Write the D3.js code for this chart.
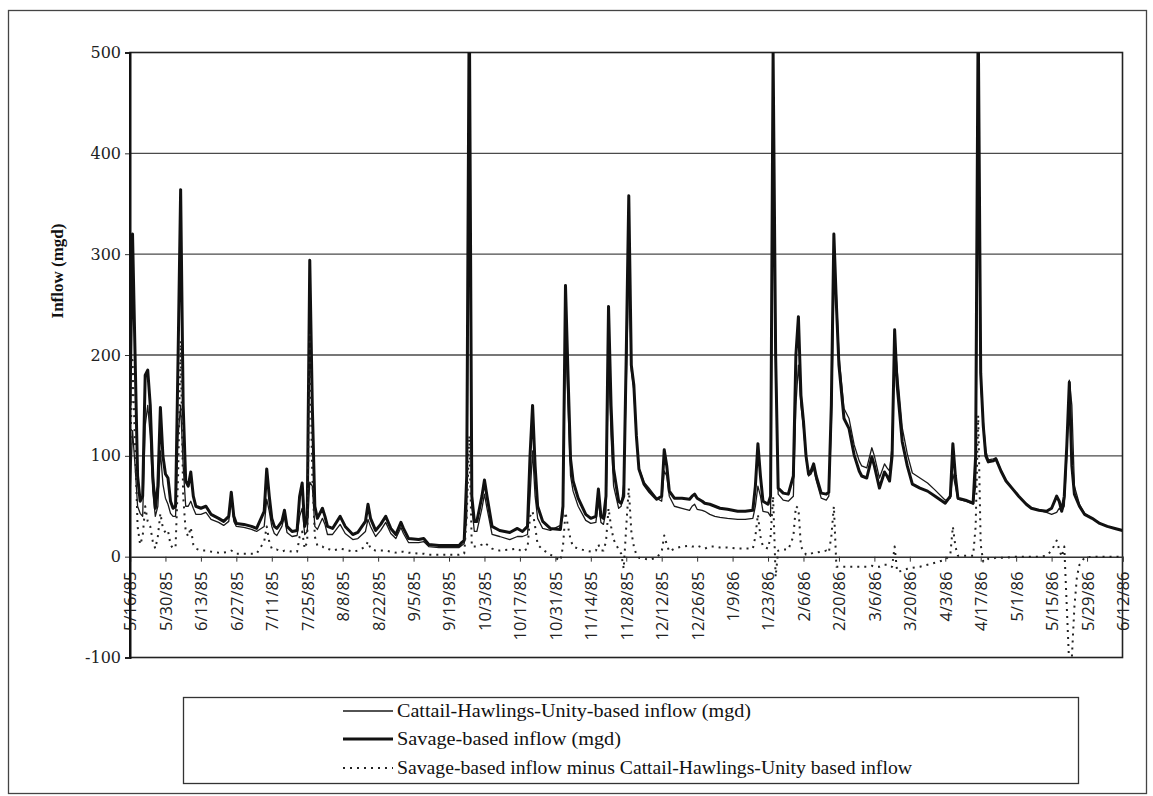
<!DOCTYPE html>
<html>
<head>
<meta charset="utf-8">
<script src="https://cdn.jsdelivr.net/npm/d3@7"></script>
<style>
  body { margin: 0; background: #fff; }
  svg { display: block; }
</style>
</head>
<body>
<svg id="chart" width="1153" height="796"></svg>
<script>
// Daily inflow record, 5/16/85 - 6/12/86. Each series is a list of
// [days after 5/16/85, inflow in mgd].
const startLabel = "5/16/85";
const endLabel = "6/12/86";

const tickLabels = ["5/16/85","5/30/85","6/13/85","6/27/85","7/11/85","7/25/85","8/8/85",
  "8/22/85","9/5/85","9/19/85","10/3/85","10/17/85","10/31/85","11/14/85","11/28/85",
  "12/12/85","12/26/85","1/9/86","1/23/86","2/6/86","2/20/86","3/6/86","3/20/86",
  "4/3/86","4/17/86","5/1/86","5/15/86","5/29/86","6/12/86"];

const yTicks = [-100, 0, 100, 200, 300, 400, 500];

const seriesNames = [
  "Cattail-Hawlings-Unity-based inflow (mgd)",
  "Savage-based inflow (mgd)",
  "Savage-based inflow minus Cattail-Hawlings-Unity based inflow"
];

const savageInflow = [[0,150],[1,320],[2,200],[3,80],[4,55],[5,60],[6,180],[7,185],[8,150],[9,80],
  [10,48],[11,70],[12,148],[13,100],[14,82],[15,78],[16,55],[17,48],[18,50],[19,200],[20,364],
  [21,150],[22,75],[23,70],[24,84],[25,60],[26,50],[28,48],[30,50],[32,42],[35,38],[37,35],
  [39,40],[40,64],[41,40],[42,33],[45,32],[48,30],[50,28],[53,45],[54,87],[55,60],[56,38],
  [57,30],[58,28],[60,35],[61,46],[62,30],[64,25],[66,26],[67,60],[68,73],[69,30],[70,40],
  [71,294],[72,150],[73,50],[74,38],[76,48],[77,40],[78,30],[80,28],[83,40],[85,30],[88,22],
  [90,24],[93,35],[94,52],[95,38],[97,26],[99,32],[101,40],[103,28],[105,22],[107,34],[108,28],
  [110,18],[114,17],[116,18],[118,12],[122,11],[126,11],[130,11],[131,14],[132,16],[133,80],
  [134,560],[135,60],[136,35],[137,35],[139,60],[140,76],[141,60],[143,30],[146,26],[150,24],
  [153,28],[155,25],[157,30],[158,100],[159,150],[160,90],[161,50],[163,35],[166,28],[170,27],
  [171,50],[172,269],[173,180],[174,97],[175,75],[177,58],[180,42],[182,38],[184,40],[185,67],
  [186,40],[187,38],[188,60],[189,248],[190,150],[191,87],[193,55],[194,53],[195,60],[196,200],
  [197,358],[198,190],[199,170],[200,120],[201,87],[203,72],[205,65],[208,57],[210,60],[211,106],
  [212,90],[213,65],[215,58],[218,58],[221,57],[222,60],[223,62],[224,58],[226,55],[227,53],
  [229,52],[231,50],[233,48],[236,47],[240,45],[243,45],[246,46],[247,70],[248,112],[249,80],
  [250,55],[252,52],[253,60],[254,500],[255,200],[256,68],[258,63],[260,62],[262,80],[263,200],
  [264,238],[265,160],[266,134],[267,100],[268,82],[269,85],[270,92],[271,80],[273,63],[275,62],
  [276,64],[277,150],[278,320],[279,250],[280,190],[282,137],[284,127],[286,101],[288,85],
  [289,80],[291,78],[293,99],[294,90],[296,68],[298,84],[299,80],[300,75],[301,100],[302,225],
  [303,170],[305,114],[307,90],[309,72],[312,68],[315,65],[318,60],[322,53],[324,60],[325,112],
  [326,80],[327,58],[330,56],[333,53],[334,100],[335,540],[336,182],[337,130],[338,100],[339,94],
  [341,95],[342,97],[344,85],[346,75],[349,66],[351,60],[354,52],[356,48],[359,46],[362,45],
  [364,48],[366,60],[367,55],[368,45],[369,60],[370,110],[371,173],[372,90],[373,62],[375,50],
  [377,42],[380,38],[383,33],[386,30],[389,28],[392,26]];

const cattailInflow = [[0,60],[1,125],[2,90],[3,50],[4,43],[5,40],[6,130],[7,150],[8,120],[9,65],
  [10,40],[11,50],[12,105],[13,72],[14,58],[15,52],[16,43],[17,40],[18,40],[19,120],[20,150],
  [21,90],[22,50],[23,50],[24,55],[25,48],[26,42],[28,42],[30,44],[32,37],[35,34],[37,31],
  [39,35],[40,58],[41,35],[42,30],[45,29],[48,27],[50,25],[53,30],[54,57],[55,45],[56,30],
  [57,23],[58,21],[60,30],[61,40],[62,24],[64,20],[66,21],[67,40],[68,48],[69,22],[70,25],
  [71,74],[72,70],[73,30],[74,27],[76,38],[77,32],[78,22],[80,22],[83,32],[85,23],[88,17],
  [90,18],[93,25],[94,37],[95,30],[97,20],[99,26],[101,34],[103,23],[105,18],[107,29],[108,23],
  [110,14],[114,14],[116,15],[118,10],[122,9],[126,9],[130,9],[131,11],[132,13],[133,40],
  [134,440],[135,50],[136,25],[137,25],[139,48],[140,62],[141,48],[143,22],[146,20],[150,17],
  [153,20],[155,20],[157,22],[158,60],[159,105],[160,60],[161,38],[163,28],[166,26],[170,31],
  [171,40],[172,225],[173,150],[174,80],[175,65],[177,50],[180,36],[182,33],[184,34],[185,55],
  [186,34],[187,32],[188,45],[189,200],[190,120],[191,70],[193,48],[194,50],[195,72],[196,170],
  [197,290],[198,185],[199,165],[200,118],[201,88],[203,74],[205,68],[208,58],[210,55],[211,85],
  [212,80],[213,60],[215,50],[218,48],[221,46],[222,50],[223,52],[224,47],[226,46],[227,45],
  [229,42],[231,40],[233,39],[236,38],[240,37],[243,37],[246,38],[247,50],[248,70],[249,60],
  [250,45],[252,44],[253,40],[254,440],[255,220],[256,62],[258,56],[260,55],[262,60],[263,150],
  [264,190],[265,150],[266,128],[267,98],[268,80],[269,82],[270,88],[271,76],[273,58],[275,56],
  [276,60],[277,130],[278,270],[279,260],[280,200],[282,147],[284,137],[286,111],[288,95],
  [289,90],[291,88],[293,108],[294,100],[296,78],[298,92],[299,88],[300,85],[301,110],[302,215],
  [303,185],[305,128],[307,102],[309,83],[312,78],[315,73],[318,66],[322,56],[324,58],[325,82],
  [326,70],[327,57],[330,55],[333,52],[334,70],[335,400],[336,170],[337,135],[338,105],[339,96],
  [341,97],[342,98],[344,86],[346,76],[349,66],[351,60],[354,52],[356,48],[359,46],[362,44],
  [364,42],[366,44],[367,48],[368,45],[369,50],[370,100],[371,175],[372,150],[373,70],[375,52],
  [377,43],[380,38],[383,33],[386,30],[389,28],[392,26]];

const savageMinusCattail = [[0,90],[1,195],[2,110],[3,30],[4,12],[5,20],[6,50],[7,35],[8,30],
  [9,15],[10,8],[11,20],[12,43],[13,28],[14,24],[15,26],[16,12],[17,8],[18,10],[19,80],[20,214],
  [21,60],[22,25],[23,20],[24,29],[25,12],[26,8],[28,6],[30,6],[32,5],[35,4],[37,4],[39,5],
  [40,6],[41,5],[42,3],[45,3],[48,3],[50,3],[53,15],[54,30],[55,15],[56,8],[57,7],[58,7],[60,5],
  [61,6],[62,6],[64,5],[66,5],[67,20],[68,25],[69,8],[70,15],[71,220],[72,80],[73,20],[74,11],
  [76,10],[77,8],[78,8],[80,6],[83,8],[85,7],[88,5],[90,6],[93,10],[94,15],[95,8],[97,6],[99,6],
  [101,6],[103,5],[105,4],[107,5],[108,5],[110,4],[114,3],[116,3],[118,2],[122,2],[126,2],
  [130,2],[132,3],[133,40],[134,120],[135,10],[136,10],[137,10],[139,12],[140,14],[141,12],
  [143,8],[146,6],[150,7],[153,8],[155,5],[157,8],[158,40],[159,45],[160,30],[161,12],[163,7],
  [166,2],[170,-4],[171,10],[172,44],[173,30],[174,17],[175,10],[177,8],[180,6],[182,5],[184,6],
  [185,12],[186,6],[187,6],[188,15],[189,48],[190,30],[191,17],[193,7],[194,3],[195,-12],
  [196,30],[197,68],[198,25],[199,10],[200,2],[201,-1],[203,-2],[205,-3],[208,-1],[210,5],
  [211,21],[212,12],[213,5],[215,8],[218,10],[221,11],[222,10],[223,10],[224,11],[226,9],[227,8],
  [229,10],[231,10],[233,9],[236,9],[240,8],[243,8],[246,8],[247,20],[248,42],[249,20],[250,10],
  [252,8],[253,20],[254,60],[255,-20],[256,6],[258,7],[260,7],[262,20],[263,50],[264,48],
  [265,10],[266,6],[267,2],[268,2],[269,3],[270,4],[271,4],[273,5],[275,6],[276,4],[277,20],
  [278,50],[279,-10],[280,-10],[282,-10],[284,-10],[286,-10],[288,-10],[289,-10],[291,-10],
  [293,-9],[294,-10],[296,-10],[298,-8],[299,-8],[300,-10],[301,-10],[302,10],[303,-15],
  [305,-14],[307,-12],[309,-11],[312,-10],[315,-8],[318,-6],[322,-3],[324,2],[325,30],[326,10],
  [327,1],[330,1],[333,1],[334,30],[335,140],[336,12],[337,-5],[338,-5],[339,-2],[341,-2],
  [342,-1],[344,-1],[346,-1],[349,0],[351,0],[354,0],[356,0],[359,0],[362,1],[364,6],[366,16],
  [367,7],[368,0],[369,10],[370,-50],[371,-110],[372,-100],[373,-50],[374,-20],[375,-8],
  [377,-1],[380,0],[383,0],[386,0],[389,0],[392,0]];

// ---- layout ----
const plot = { left: 130, right: 1122.5, top: 52.5, bottom: 657.5 };

const parseDate = d3.utcParse("%m/%d/%y");
const startDate = parseDate(startLabel);
const endDate = parseDate(endLabel);
const tickDates = tickLabels.map(parseDate);

const x = d3.scaleUtc().domain([startDate, endDate]).range([plot.left, plot.right]);
const y = d3.scaleLinear().domain([-100, 500]).range([plot.bottom, plot.top]);

const svg = d3.select("#chart");

// outer frame
svg.append("rect")
  .attr("x", 8.5).attr("y", 10.5).attr("width", 1138).attr("height", 783)
  .attr("fill", "none").attr("stroke", "#444").attr("stroke-width", 1.3);

// horizontal gridlines
svg.append("g")
  .selectAll("line")
  .data(yTicks.filter(v => v > -100 && v < 500 && v !== 0))
  .join("line")
  .attr("x1", plot.left).attr("x2", plot.right)
  .attr("y1", d => y(d)).attr("y2", d => y(d))
  .attr("stroke", "#4a4a4a").attr("stroke-width", 1.3);

// plot border
svg.append("rect")
  .attr("x", plot.left).attr("y", plot.top)
  .attr("width", plot.right - plot.left).attr("height", plot.bottom - plot.top)
  .attr("fill", "none").attr("stroke", "#222").attr("stroke-width", 1.6);

// y axis (plain hyphen for negatives)
const yAxis = svg.append("g")
  .attr("transform", `translate(${plot.left},0)`)
  .call(d3.axisLeft(y).tickValues(yTicks).tickSize(5).tickPadding(4).tickFormat(d => String(d)));
yAxis.select(".domain").attr("stroke", "#111").attr("stroke-width", 2);
yAxis.selectAll(".tick line").attr("stroke", "#333");
yAxis.selectAll(".tick text")
  .attr("font-family", "'DejaVu Serif', serif")
  .attr("font-size", 16)
  .attr("fill", "#222");

// x axis on the zero line
const xAxis = svg.append("g")
  .attr("transform", `translate(0,${y(0)})`)
  .call(d3.axisBottom(x).tickValues(tickDates).tickSize(5).tickFormat((d, i) => tickLabels[i]));
xAxis.select(".domain").attr("stroke", "#333").attr("stroke-width", 1.5);
xAxis.selectAll(".tick line").attr("stroke", "#333");
xAxis.selectAll(".tick text")
  .attr("transform", "rotate(-90)")
  .attr("x", -15).attr("y", 0).attr("dy", "0.36em")
  .attr("text-anchor", "end")
  .attr("font-family", "'Open Sans', sans-serif")
  .attr("font-size", 16.5)
  .attr("fill", "#222");

// y axis title
svg.append("text")
  .attr("transform", "translate(63,271) rotate(-90)")
  .attr("text-anchor", "middle")
  .attr("font-family", "'Liberation Serif', serif")
  .attr("font-weight", "bold")
  .attr("font-size", 17)
  .attr("fill", "#111")
  .text("Inflow (mgd)");

// series
svg.append("clipPath").attr("id", "plot-clip")
  .append("rect")
  .attr("x", plot.left).attr("y", plot.top)
  .attr("width", plot.right - plot.left).attr("height", plot.bottom - plot.top);

const line = d3.line()
  .x(d => x(d3.utcDay.offset(startDate, d[0])))
  .y(d => y(d[1]));

const series = svg.append("g").attr("clip-path", "url(#plot-clip)");

const styles = [
  { data: cattailInflow, width: 1.3, dash: null, color: "#1a1a1a" },
  { data: savageInflow, width: 3, dash: null, color: "#111" },
  { data: savageMinusCattail, width: 2, dash: "2,5", color: "#222" }
];

styles.forEach(s => {
  series.append("path")
    .datum(s.data)
    .attr("d", line)
    .attr("fill", "none")
    .attr("stroke", s.color)
    .attr("stroke-width", s.width)
    .attr("stroke-linejoin", "round")
    .attr("stroke-dasharray", s.dash);
});

// redraw the left axis line over the series
svg.append("line")
  .attr("x1", plot.left).attr("x2", plot.left)
  .attr("y1", plot.top).attr("y2", plot.bottom)
  .attr("stroke", "#111").attr("stroke-width", 2);

// legend
const legend = svg.append("g");
legend.append("rect")
  .attr("x", 183.5).attr("y", 697.5).attr("width", 895).attr("height", 86)
  .attr("fill", "#fff").attr("stroke", "#333").attr("stroke-width", 1.3);

const legendRows = [711, 739, 768];
const legendWidths = [354, 224, 515];
styles.forEach((s, i) => {
  legend.append("line")
    .attr("x1", 343).attr("x2", 393)
    .attr("y1", legendRows[i]).attr("y2", legendRows[i])
    .attr("stroke", s.color)
    .attr("stroke-width", s.width)
    .attr("stroke-dasharray", s.dash);
  legend.append("text")
    .attr("x", 397).attr("y", legendRows[i] + 6)
    .attr("font-family", "'Liberation Serif', serif")
    .attr("font-size", 18)
    .attr("fill", "#111")
    .attr("textLength", legendWidths[i])
    .attr("lengthAdjust", "spacingAndGlyphs")
    .text(seriesNames[i]);
});
</script>
</body>
</html>
